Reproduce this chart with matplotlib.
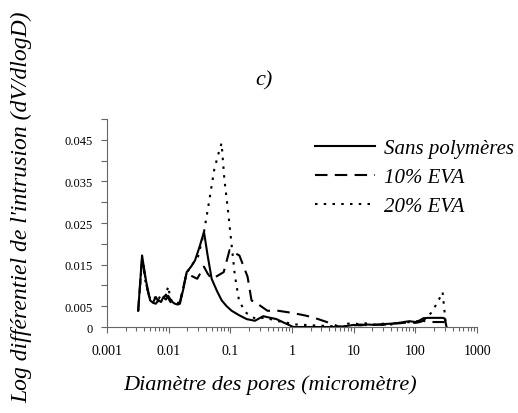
import matplotlib
matplotlib.use("Agg")
import matplotlib.pyplot as plt
from matplotlib.ticker import FixedLocator, LogLocator, NullFormatter

# pore diameter (micrometre) and log differential intrusion
sans_x = [0.0032, 0.0037, 0.0039, 0.0043, 0.005, 0.0056, 0.0062, 0.0068, 0.0075,
          0.0082, 0.009, 0.0098, 0.0105, 0.0115, 0.0126, 0.014, 0.0152, 0.0175,
          0.0196, 0.023, 0.0267, 0.032, 0.0373, 0.043, 0.0497, 0.06, 0.0723,
          0.087, 0.105, 0.14, 0.184, 0.25, 0.34, 0.45, 0.56, 0.75, 1.05, 1.5,
          2.2, 3.2, 4.5, 6, 8, 10, 13, 17, 22, 30, 40, 55, 65, 80, 100, 118,
          134, 160, 200, 240, 280, 300, 320]
sans_y = [0.0039, 0.0172, 0.0150, 0.0110, 0.0064, 0.0058, 0.0056, 0.0065, 0.0060,
          0.0072, 0.0066, 0.0075, 0.0068, 0.0060, 0.0056, 0.0054, 0.0056, 0.0095,
          0.0132, 0.0145, 0.0160, 0.0195, 0.0229, 0.0170, 0.0116, 0.0088, 0.0064,
          0.0050, 0.0039, 0.0028, 0.0019, 0.0015, 0.0026, 0.0022, 0.0019, 0.0010,
          0.0, 0.0, 0.0, 0.0, 0.0, 0.0, 0.0003, 0.0005, 0.0004, 0.0006, 0.0005,
          0.0007, 0.0008, 0.0010, 0.0012, 0.0014, 0.0012, 0.0016, 0.0021, 0.0022,
          0.0022, 0.0022, 0.0022, 0.0020, 0.0]

eva10_x = [0.0032, 0.0037, 0.0039, 0.0043, 0.005, 0.0056, 0.0062, 0.0068, 0.0075,
           0.0082, 0.009, 0.0098, 0.0105, 0.0115, 0.0126, 0.014, 0.0152, 0.0175,
           0.0196, 0.024, 0.029, 0.0373, 0.043, 0.0497, 0.06, 0.078, 0.097,
           0.14, 0.19, 0.22, 0.3, 0.4, 0.6, 1.0, 1.6, 2.2, 3.5, 6, 8, 10, 13,
           17, 22, 30, 40, 55, 65, 80, 100, 118, 134, 160, 200, 240, 280, 300, 320]
eva10_y = [0.0039, 0.0165, 0.0148, 0.0105, 0.0062, 0.0060, 0.0072, 0.0062, 0.0070,
           0.0068, 0.0078, 0.0070, 0.0062, 0.0055, 0.0060, 0.0058, 0.0060, 0.0100,
           0.0132, 0.0122, 0.0116, 0.0145, 0.0128, 0.0116, 0.0122, 0.0132, 0.0185,
           0.0172, 0.0121, 0.0064, 0.0052, 0.0039, 0.0039, 0.0034, 0.0028, 0.0023,
           0.0013, 0.0, 0.0002, 0.0004, 0.0006, 0.0004, 0.0006, 0.0005, 0.0008,
           0.0009, 0.0010, 0.0011, 0.0010, 0.0012, 0.0015, 0.0012, 0.0012, 0.0012,
           0.0012, 0.0011, 0.0]

eva20_x = [0.0032, 0.0037, 0.0039, 0.0043, 0.005, 0.0056, 0.0062, 0.0068, 0.0075,
           0.0082, 0.009, 0.0099, 0.0105, 0.0115, 0.0126, 0.014, 0.0152, 0.0175,
           0.0196, 0.024, 0.03, 0.037, 0.045, 0.055, 0.065, 0.072, 0.08, 0.092,
           0.105, 0.118, 0.139, 0.184, 0.26, 0.36, 0.55, 1.18, 2.2, 6, 8, 10,
           13, 17, 22, 30, 40, 55, 65, 80, 100, 118, 140, 180, 230, 276, 300, 315]
eva20_y = [0.0039, 0.0160, 0.0140, 0.0100, 0.0068, 0.0062, 0.0075, 0.0066, 0.0078,
           0.0070, 0.0080, 0.0098, 0.0070, 0.0060, 0.0058, 0.0055, 0.0058, 0.0100,
           0.0130, 0.0150, 0.0170, 0.0225, 0.0300, 0.0380, 0.0420, 0.0442, 0.0355,
           0.0277, 0.0196, 0.0125, 0.0061, 0.0033, 0.0019, 0.0023, 0.0015, 0.0006,
           0.0004, 0.0001, 0.0008, 0.0009, 0.0006, 0.0010, 0.0005, 0.0008, 0.0006,
           0.0010, 0.0009, 0.0012, 0.0010, 0.0020, 0.0018, 0.0034, 0.0060, 0.0084,
           0.0030, 0.0]

serif = "Liberation Serif"

fig = plt.figure(figsize=(5.18, 4.14), dpi=100)
ax = fig.add_axes([0.2066, 0.2077, 0.7144, 0.5023])

ax.plot(sans_x, sans_y, color="black", lw=1.5, label="Sans polymères")
ax.plot(eva10_x, eva10_y, color="black", lw=1.5, linestyle=(0, (6, 3.5)), label="10% EVA")
ax.plot(eva20_x, eva20_y, color="black", lw=1.5, linestyle=(0, (1.2, 3)), label="20% EVA")

ax.set_xscale("log")
ax.set_xlim(0.001, 1000)
ax.set_ylim(0, 0.05)

ax.set_xticks([0.001, 0.01, 0.1, 1, 10, 100, 1000])
ax.set_xticklabels(["0.001", "0.01", "0.1", "1", "10", "100", "1000"],
                   fontfamily=serif, fontsize=10)
ax.xaxis.set_minor_locator(LogLocator(base=10, subs=range(2, 10)))
ax.xaxis.set_minor_formatter(NullFormatter())

yt = [0, 0.005, 0.01, 0.015, 0.02, 0.025, 0.03, 0.035, 0.04, 0.045, 0.05]
ylab = ["0", "0.005", "", "0.015", "", "0.025", "", "0.035", "", "0.045", ""]
ax.yaxis.set_major_locator(FixedLocator(yt))
ax.set_yticklabels(ylab, fontfamily=serif, fontsize=9)

for s in ["top", "right"]:
    ax.spines[s].set_visible(False)
for s in ["left", "bottom"]:
    ax.spines[s].set_color("#666666")
    ax.spines[s].set_linewidth(0.8)
ax.tick_params(axis="both", which="both", color="#666666", width=0.8)
ax.tick_params(axis="x", which="major", length=4, pad=8)
ax.tick_params(axis="x", which="minor", length=3)
ax.tick_params(axis="y", length=4, pad=6)

fig.text(0.522, 0.07, "Diamètre des pores (micromètre)", fontfamily=serif,
         style="italic", fontsize=16, ha="center", va="center")
fig.text(0.042, 0.5, "Log différentiel de l'intrusion (dV/dlogD)", fontfamily=serif,
         style="italic", fontsize=17, rotation=90, ha="center", va="center")
fig.text(0.51, 0.805, "c)", fontfamily=serif, style="italic", fontsize=16,
         ha="center", va="center")

ax.legend(loc="center left", bbox_to_anchor=(0.562, 0.72), bbox_transform=ax.transAxes,
          frameon=False, borderpad=0, borderaxespad=0,
          prop={"family": serif, "style": "italic", "size": 15},
          handlelength=2.9, handletextpad=0.4, labelspacing=0.45)

fig.savefig("out.png", dpi=100)
